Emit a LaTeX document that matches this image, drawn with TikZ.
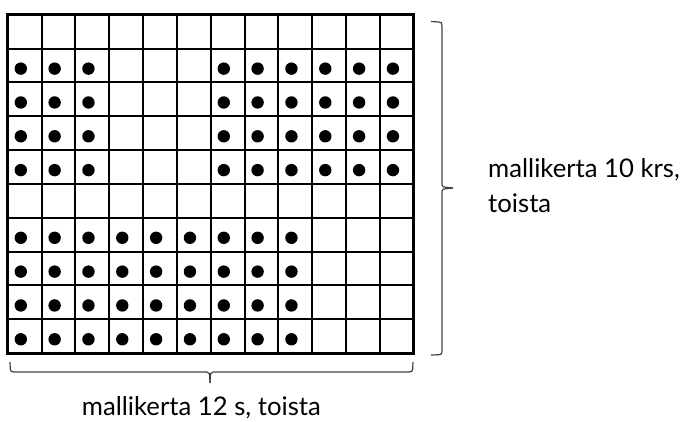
\documentclass[tikz,border=0pt]{standalone}
\usepackage{fontspec}
\setmainfont{Lato}
\begin{document}
\begin{tikzpicture}[x=1bp,y=-1bp,
  gridline/.style={line width=2bp,black},
  outerline/.style={line width=3bp,black},
  dotmark/.style={fill=black,draw=none},
  bracel/.style={line width=1.2bp,black!75},
  lbl/.style={font=\fontsize{25.7bp}{31bp}\selectfont,inner sep=0pt,anchor=base west}]
\useasboundingbox (0,0) rectangle (688,421);
\def\cw{33.83}
\def\xo{7.8}
\def\yo{14.8}
% inner grid lines
\foreach \i in {1,...,11}
  \draw[gridline] ({\xo+\i*\cw},\yo) -- ({\xo+\i*\cw},{\yo+10*\cw});
\foreach \j in {1,...,9}
  \draw[gridline] (\xo,{\yo+\j*\cw}) -- ({\xo+12*\cw},{\yo+\j*\cw});
\draw[outerline] (\xo,\yo) rectangle ({\xo+12*\cw},{\yo+10*\cw});
% dots rows 1-4
\foreach \r in {1,...,4}{
  \foreach \c in {0,1,2,6,7,8,9,10,11}
    \fill[dotmark] ({\xo+\c*\cw+13},{\yo+\r*\cw+20}) circle (6.2);
}
\foreach \r in {6,...,9}{
  \foreach \c in {0,...,8}
    \fill[dotmark] ({\xo+\c*\cw+13},{\yo+\r*\cw+20}) circle (6.2);
}
% right brace
\coordinate (rt) at (431,21.5);
\coordinate (rb) at (431,355);
\coordinate (rm) at (453,188);
\draw[bracel] (rt) -- (439,22) .. controls (441.5,22.2) and (442,23) .. (442,26) -- (442,185) .. controls (442,187) .. (rm);
\draw[bracel] (rb) -- (439,354.7) .. controls (441.5,354.5) and (442,354) .. (442,351) -- (442,191) .. controls (442,189) .. (rm);
% bottom brace
\coordinate (bl) at (10,362);
\coordinate (br) at (413,362);
\coordinate (bm) at (210,383);
\draw[bracel] (bl) -- (10.3,369) .. controls (10.5,371.5) and (11.5,372) .. (14,372) -- (207,372) .. controls (209.5,372.3) .. (bm);
\draw[bracel] (br) -- (412.7,369) .. controls (412.5,371.5) and (411.5,372) .. (409,372) -- (213,372) .. controls (210.5,372.3) .. (bm);
% labels
\node[lbl] (l1) at (488,177.3) {mallikerta 10 krs,};
\node[lbl] (l2) at (488,212.7) {toista};
\node[lbl] (l3) at (81.7,415) {mallikerta 12 s, toista};
\end{tikzpicture}
\end{document}
